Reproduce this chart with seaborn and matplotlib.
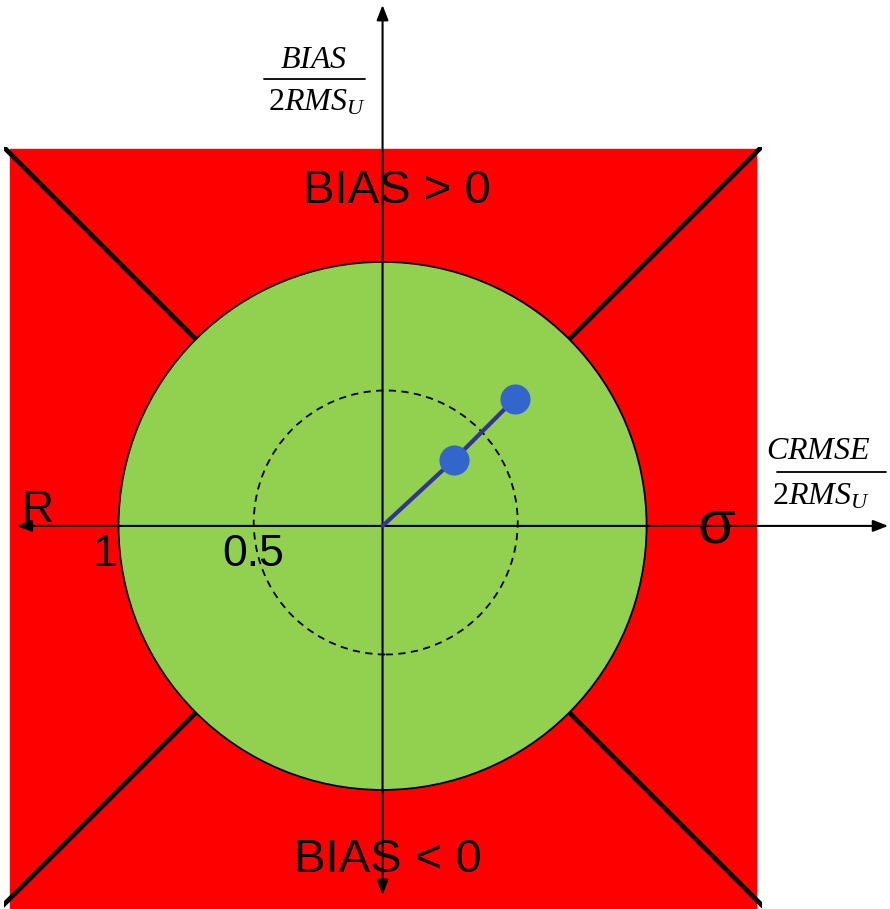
"""
Target diagram: bias / CRMSE circle on red square.
"""
import numpy as np
import matplotlib.pyplot as plt
import seaborn as sns
import pandas as pd
from matplotlib.patches import Circle, Rectangle

sns.set_style('white')
plt.rcParams.update({
    'font.family':      ['Liberation Sans', 'DejaVu Sans'],
    'text.color':       'black',
    'mathtext.fontset': 'custom',
    'mathtext.it':      'Liberation Serif:italic',
    'mathtext.rm':      'Liberation Serif',
})

RED   = '#FF0000'
GREEN = '#92D050'
BLUE  = '#3366CC'
NAVY  = '#333399'

# data (units of the outer circle radius)
circle_radii  = [1.0, 0.5]
point_crmse   = [0.27, 0.50]
point_bias    = [0.25, 0.48]
diag_angles   = [45, 135, 225, 315]
diag_inner    = 1.0
diag_outer    = 2.05
tick_values   = [-1.0, -0.5]
tick_labels   = ['1', '0.5']

XLIM = (-1.449, 1.922)
YLIM = (-1.451, 1.992)

fig = plt.figure(figsize=(8.9, 9.09), dpi=100)
ax = fig.add_axes([0, 0, 1, 1])

# red square + green circle
ax.add_patch(Rectangle((-1.411, -1.46), 2.826, 2.888, color=RED, zorder=0))
ax.add_patch(Circle((0, 0), circle_radii[0], facecolor=GREEN,
                    edgecolor='black', linewidth=1.3, zorder=1))
ax.add_patch(Circle((0.012, 0.013), circle_radii[1], facecolor='none',
                    edgecolor='black', linewidth=1.3, linestyle=(0, (4, 3)),
                    zorder=2))

# diagonal boundaries outside the circle
clip = Rectangle((-1.432, -1.47), 2.87, 2.905, transform=ax.transData)
for ang in diag_angles:
    a = np.deg2rad(ang)
    ln, = ax.plot([diag_inner * np.cos(a), diag_outer * np.cos(a)],
                  [diag_inner * np.sin(a), diag_outer * np.sin(a)],
                  color='black', linewidth=3.4, solid_capstyle='butt', zorder=2)
    ln.set_clip_path(clip)

# axes arrows
arr = dict(arrowstyle='-|>,head_length=0.9,head_width=0.35',
           color='black', linewidth=1.5, shrinkA=0, shrinkB=0)
ax.annotate('', xy=(1.915, 0), xytext=(0, 0), arrowprops=arr, zorder=3)
ax.annotate('', xy=(-1.386, 0), xytext=(0, 0), arrowprops=arr, zorder=3)
ax.annotate('', xy=(0, 1.973), xytext=(0, 0), arrowprops=arr, zorder=3)
ax.annotate('', xy=(0, -1.398), xytext=(0, 0), arrowprops=arr, zorder=3)

# model trajectory
df = pd.DataFrame({'crmse': [0.0] + point_crmse, 'bias': [0.0] + point_bias})
sns.lineplot(data=df, x='crmse', y='bias', color=NAVY, linewidth=3,
             ax=ax, zorder=4, sort=False)
sns.scatterplot(x=point_crmse, y=point_bias, color=BLUE, s=470,
                linewidth=0, ax=ax, zorder=5)
ax.set_xlim(*XLIM)
ax.set_ylim(*YLIM)
ax.axis('off')

# labels
ax.text(0.055, 1.269, 'BIAS > 0', fontsize=34, ha='center', va='center', zorder=6)
ax.text(0.021, -1.265, 'BIAS < 0', fontsize=34, ha='center', va='center', zorder=6)
ax.text(-1.307, 0.06, 'R', fontsize=32, ha='center', va='center', zorder=6)
ax.text(1.263, -0.005, 'σ', fontsize=44, ha='center', va='center', zorder=6)
for v, lab in zip(tick_values, tick_labels):
    ax.text(v - 0.05 if lab == '1' else v + 0.01, -0.11, lab, fontsize=32,
            ha='center', va='center', zorder=6)

# fraction labels
ax.text(-0.263, 1.764, '$BIAS$', fontsize=23, ha='center', va='center')
ax.plot([-0.45, -0.066], [1.693, 1.693], color='black', linewidth=1.3)
ax.text(-0.25, 1.603, '$2RMS_U$', fontsize=23, ha='center', va='center')

ax.text(1.652, 0.285, '$CRMSE$', fontsize=23, ha='center', va='center')
ax.plot([1.494, 1.907], [0.205, 0.205], color='black', linewidth=1.3)
ax.text(1.66, 0.113, '$2RMS_U$', fontsize=23, ha='center', va='center')

fig.savefig('out.png', dpi=100)
